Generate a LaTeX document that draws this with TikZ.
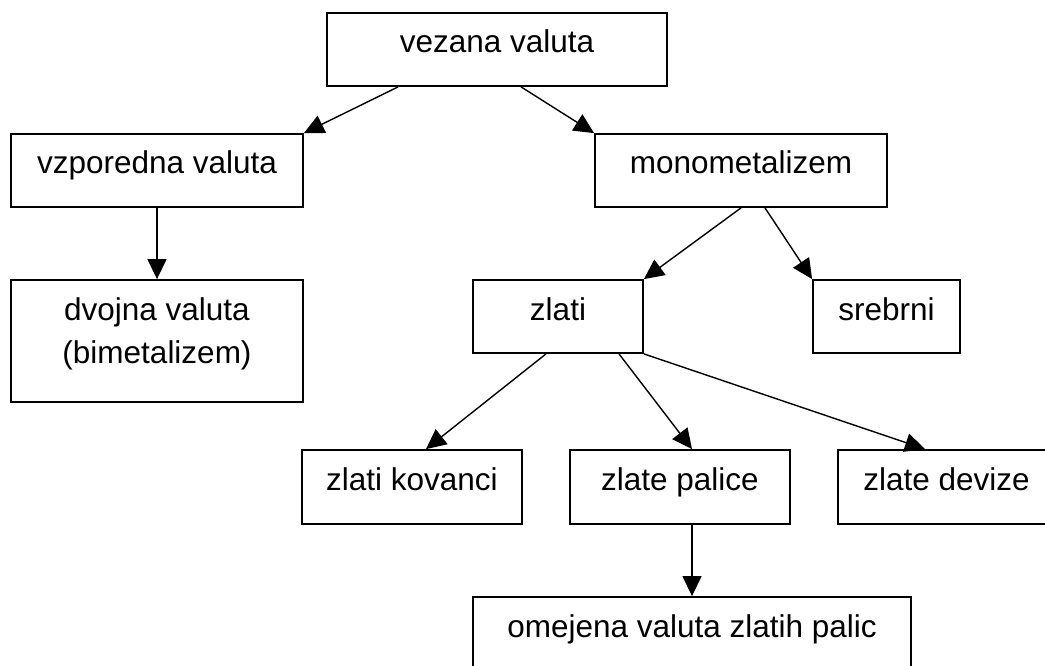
\documentclass[tikz,border=0pt]{standalone}
\usepackage{fontspec}
\setmainfont{Liberation Sans}
\usetikzlibrary{arrows.meta}
\tikzset{
  box/.style={draw=black, line width=1.8pt, inner sep=0pt, minimum height=73pt,
    text height=7pt, text depth=0pt, font=\fontsize{31.5}{43}\selectfont},
  conn/.style={line width=1.4pt, -{Triangle[length=20pt,width=19pt]}},
}
\begin{document}
\begin{tikzpicture}[x=1pt,y=-1pt]
\useasboundingbox (0,0) rectangle (1045,666);
\clip (0,0) rectangle (1045,666);
\node[box, minimum width=340pt] (vez) at (497,49.5) {vezana valuta};
\node[box, minimum width=292pt] (vzp) at (157,170.5) {vzporedna valuta};
\node[box, minimum width=292pt] (mono) at (741,170.5) {monometalizem};
\node[box, minimum width=292pt, minimum height=122pt, align=center, text height=44pt] (dvo) at (157,341) {dvojna valuta\\(bimetalizem)};
\node[box, minimum width=170pt] (zla) at (558,316.5) {zlati};
\node[box, minimum width=147pt] (sre) at (886.5,316.5) {srebrni};
\node[box, minimum width=220pt, minimum height=74pt] (kov) at (412,487) {zlati kovanci};
\node[box, minimum width=220pt, minimum height=74pt] (pal) at (680,487) {zlate palice};
\node[box, minimum width=217pt, minimum height=74pt] (dev) at (946.5,487) {zlate devize};
\node[box, minimum width=438pt] (ome) at (692,633.5) {omejena valuta zlatih palic};

\draw[conn] ([xshift=72pt]vez.south west) -- (vzp.north east);
\draw[conn] ([xshift=195pt]vez.south west) -- (mono.north west);
\draw[conn] (vzp.south) -- (dvo.north);
\draw[conn] (mono.south) -- (zla.north east);
\draw[conn] ([xshift=24pt]mono.south) -- (sre.north west);
\draw[conn] ([xshift=-12pt]zla.south) -- ([xshift=14pt]kov.north);
\draw[conn] ([xshift=61pt]zla.south) -- ([xshift=12pt]pal.north);
\draw[conn] (zla.south east) -- ([xshift=-21.5pt]dev.north);
\draw[conn] ([xshift=12pt]pal.south) -- (ome.north);
\end{tikzpicture}
\end{document}
